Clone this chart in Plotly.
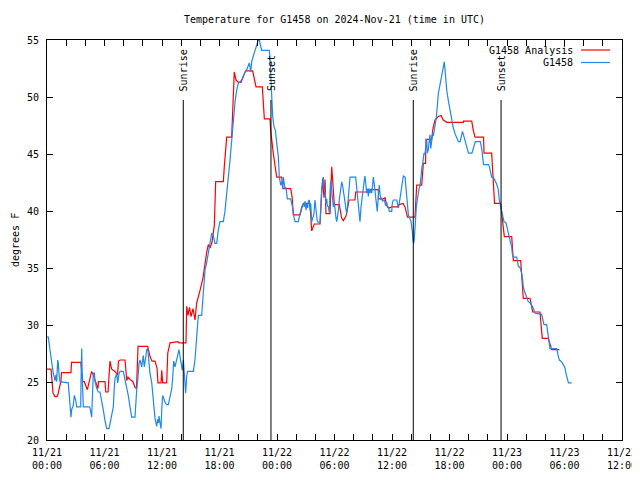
import pandas as pd
import plotly.graph_objects as go

# Hours since 2024-11-21 00:00 UTC
analysis_hours = [0.0, 0.42, 0.63, 0.83, 1.04, 1.15, 1.46, 1.51, 2.50, 2.56, 3.52, 3.73, 3.89, 4.21, 4.66, 4.83,
                  5.32, 5.37, 6.05, 6.13, 6.37, 6.57, 6.75, 7.10, 7.36, 7.46, 7.62, 8.14, 8.32, 8.45, 8.66, 8.97,
                  9.18, 9.34, 9.50, 10.51, 10.75, 10.96, 11.27, 11.48, 11.58, 11.90, 11.97, 12.07, 12.49, 12.60,
                  12.84, 13.67, 13.77, 14.50, 14.58, 14.71, 14.87, 15.03, 15.24, 15.44, 15.62, 15.79, 15.97, 16.28,
                  16.49, 16.66, 16.83, 17.01, 17.22, 17.46, 17.60, 18.40, 18.50, 18.75, 19.27, 19.38, 19.54, 19.72,
                  19.96, 20.24, 20.45, 20.73, 21.46, 21.81, 22.47, 22.57, 22.68, 23.27, 23.34, 23.61, 23.79, 23.97,
                  24.49, 24.60, 25.43, 25.57, 25.70, 26.40, 26.56, 26.75, 27.44, 27.55, 27.62, 27.89, 28.49, 28.66,
                  28.77, 28.90, 29.01, 29.11, 29.53, 29.71, 29.88, 29.98, 30.50, 30.75, 30.92, 31.20, 31.44, 31.51,
                  32.14, 32.21, 33.36, 33.39, 34.57, 34.59, 35.09, 35.27, 35.45, 35.69, 35.97, 36.66, 36.73, 37.15,
                  37.36, 37.62, 38.40, 38.47, 38.58, 39.10, 39.27, 39.50, 39.55, 40.14, 40.28, 40.49, 40.83, 41.11,
                  41.35, 41.71, 43.44, 43.46, 44.32, 44.48, 44.66, 45.55, 45.60, 46.40, 46.51, 46.70, 47.34, 47.45,
                  47.55, 47.61, 47.72, 48.49, 48.55, 48.66, 49.43, 49.53, 49.64, 49.70, 50.40, 50.58, 50.68, 51.44,
                  51.55, 51.68, 52.31, 52.66, 53.46]
analysis_temp = [26.2, 26.2, 24.1, 23.8, 23.8, 24.0, 25.2, 25.9, 25.9, 26.8, 26.8, 25.1, 25.1, 24.4, 26.0, 25.7,
                 24.5, 25.1, 25.1, 24.2, 24.2, 26.9, 26.2, 26.0, 25.7, 26.9, 27.0, 27.0, 25.2, 25.5, 25.3, 25.1,
                 24.6, 24.5, 28.2, 28.2, 27.3, 26.9, 26.9, 26.3, 25.0, 25.0, 26.1, 25.0, 25.0, 27.6,
                 28.5, 28.6, 28.5, 28.5, 31.7, 30.9, 31.6, 30.8, 31.5, 30.5, 32.0, 32.5, 33.1, 34.2,
                 35.5, 36.4, 37.1, 36.8, 37.3, 38.8, 42.6, 42.6, 43.9, 46.5, 46.5, 48.6, 52.2, 51.5,
                 51.3, 51.3, 51.8, 52.3, 52.3, 50.9, 50.9, 49.2, 48.1, 48.1, 47.1, 45.1, 44.2, 43.0,
                 43.0, 42.0, 42.0, 41.3, 39.7, 39.7, 40.2, 40.7, 40.7, 39.5, 38.3, 38.9, 38.9, 41.6,
                 42.9, 41.2, 42.8, 39.8, 39.8, 43.9, 41.6, 40.6, 40.6, 39.4, 39.2, 39.6, 40.6, 41.0,
                 41.0, 41.7, 41.7, 41.9, 41.9, 41.1, 41.1, 41.2, 40.5, 40.3, 40.4, 40.4, 40.6, 40.7,
                 40.4, 39.5, 39.5, 40.8, 42.3, 42.3, 44.2, 44.2, 46.3, 46.3, 47.3, 48.0, 48.3, 48.4,
                 48.0, 47.8, 47.8, 47.9, 47.9, 47.1, 46.5, 46.5, 45.1, 45.1, 43.3, 40.7, 40.7, 39.8,
                 39.4, 38.4, 37.8, 37.8, 36.9, 35.7, 35.7, 34.6, 33.4, 32.4, 32.4, 31.7, 31.2, 31.2,
                 30.2, 28.9, 28.9, 27.9, 27.9]

obs_hours = [0.0, 0.14, 0.31, 0.49, 0.66, 0.76, 0.83, 0.94, 1.01, 1.12, 1.18, 1.25, 1.36, 2.22, 2.30, 2.40, 2.50,
             2.58, 2.74, 2.85, 2.99, 3.10, 3.52, 3.55, 3.62, 3.69, 3.79, 4.41, 4.49, 4.66, 4.73, 4.83, 4.94, 5.01,
             5.19, 5.35, 5.53, 5.71, 5.88, 6.05, 6.23, 6.47, 6.57, 6.75, 6.92, 7.02, 7.10, 7.27, 7.38, 7.51, 7.62,
             7.96, 8.07, 8.21, 8.32, 8.48, 8.66, 8.84, 9.18, 9.26, 9.36, 9.47, 9.53, 9.60, 9.71, 9.88, 10.05,
             10.15, 10.30, 10.40, 10.51, 10.57, 10.64, 10.75, 10.93, 11.09, 11.20, 11.27, 11.45, 11.55, 11.62,
             11.69, 11.79, 11.90, 11.97, 12.07, 12.21, 12.31, 12.49, 12.66, 12.84, 13.02, 13.12, 13.22, 13.36,
             13.53, 13.70, 13.77, 13.88, 14.06, 14.12, 14.23, 14.33, 14.40, 14.47, 14.58, 14.68, 15.27, 15.34,
             15.44, 15.52, 15.67, 15.79, 16.14, 16.31, 16.49, 16.66, 16.83, 17.01, 17.19, 17.35, 17.53, 17.71,
             17.77, 17.88, 18.05, 18.40, 18.57, 18.75, 18.92, 19.10, 19.27, 19.44, 19.62, 19.79, 19.96, 20.32,
             20.48, 20.66, 20.84, 21.01, 21.11, 21.26, 21.36, 21.53, 21.71, 21.88, 22.05, 22.15, 22.23, 22.40,
             23.19, 23.27, 23.34, 23.45, 23.55, 23.69, 23.83, 23.97, 24.14, 24.24, 24.39, 24.49, 24.60, 24.66,
             24.73, 24.83, 24.94, 25.08, 25.43, 25.53, 25.70, 25.77, 25.88, 26.22, 26.33, 26.40, 26.57, 26.75,
             26.85, 26.92, 27.03, 27.10, 27.20, 27.27, 27.38, 27.44, 27.52, 27.62, 27.73, 27.86, 27.96, 28.07,
             28.21, 28.49, 28.56, 28.66, 28.83, 28.90, 29.01, 29.11, 29.19, 29.25, 29.36, 29.46, 29.53, 29.60,
             29.71, 29.81, 29.88, 29.98, 30.06, 30.16, 30.23, 30.40, 30.50, 30.65, 30.75, 30.86, 30.99, 31.10,
             31.20, 31.27, 31.37, 31.51, 31.62, 32.21, 32.32, 32.42, 32.48, 32.59, 32.66, 32.77, 32.84, 32.91,
             33.01, 33.12, 33.18, 33.26, 33.36, 33.46, 33.53, 33.60, 33.70, 33.81, 33.88, 33.98, 34.05, 34.15,
             34.22, 34.30, 34.40, 34.46, 34.57, 34.67, 34.74, 34.85, 34.92, 35.03, 35.20, 35.34, 35.45, 35.56,
             35.62, 35.72, 35.97, 36.03, 36.14, 36.49, 36.59, 36.66, 36.76, 36.84, 36.94, 37.01, 37.07, 37.18,
             37.36, 37.43, 37.54, 37.64, 37.71, 37.81, 37.88, 37.99, 38.06, 38.12, 38.19, 38.26, 38.33, 38.40,
             38.47, 38.54, 38.64, 38.71, 38.82, 38.92, 39.03, 39.13, 39.20, 39.34, 39.44, 39.55, 39.62, 39.69,
             39.79, 39.90, 39.97, 40.04, 40.14, 40.25, 40.31, 40.41, 40.49, 40.59, 40.73, 40.83, 41.01, 41.19,
             41.35, 41.46, 41.53, 41.60, 41.71, 41.88, 42.05, 42.23, 42.40, 42.58, 42.75, 42.93, 43.11, 43.21,
             43.35, 43.46, 43.63, 43.81, 43.98, 44.34, 44.51, 44.69, 45.21, 45.38, 45.49, 45.55, 45.90, 46.07,
             46.17, 46.32, 46.40, 46.57, 46.74, 46.92, 47.09, 47.19, 47.34, 47.55, 47.69, 47.90, 48.04, 48.14,
             48.25, 48.39, 48.49, 48.55, 48.66, 49.01, 49.12, 49.18, 49.36, 49.53, 49.64, 49.70, 49.87, 50.06,
             50.22, 50.40, 50.58, 50.75, 50.92, 51.62, 51.79, 51.86, 52.14, 52.25, 52.31, 52.41, 52.49, 53.19,
             53.25, 53.36, 53.46, 53.64, 53.88, 54.05, 54.16, 54.29, 54.41, 54.75]
obs_temp = [29.0, 29.0, 27.9, 26.7, 25.8, 25.5, 25.2, 25.7, 25.1, 27.0, 26.7, 25.8, 25.1, 25.0, 24.2, 22.9, 22.0,
            22.7, 23.0, 23.9, 23.5, 22.9, 22.9, 25.2, 28.0, 25.2, 22.9, 22.9, 22.8, 22.0, 23.7, 25.8, 25.9, 25.1,
            24.5, 24.2, 24.2, 23.5, 22.6, 21.7, 21.0, 21.0, 21.5, 22.1, 22.9, 24.6, 25.4, 25.8, 25.0, 25.8, 26.0,
            26.0, 25.6, 25.1, 24.5, 23.9, 22.9, 22.0, 22.0, 23.8, 24.4, 25.2, 25.8, 26.7, 27.0, 26.4, 27.4,
            26.4, 27.2, 27.9, 28.0, 27.4, 26.7, 25.8, 25.0, 23.8, 22.6, 21.9, 21.2, 21.8, 21.5,
            22.1, 21.5, 21.0, 22.6, 23.9, 23.6, 23.3, 23.1, 23.1, 23.8, 24.5, 25.5, 26.9, 26.4,
            27.0, 27.6, 27.9, 27.3, 26.4, 26.1, 27.0, 25.8, 24.5, 24.1, 25.6, 26.0, 26.0, 26.3,
            27.0, 27.9, 29.8, 30.9, 30.9, 32.5, 34.9, 35.5, 36.4, 37.2, 38.1, 37.9, 37.2, 37.2,
            37.8, 38.4, 39.1, 39.1, 40.0, 41.3, 43.0, 44.5, 46.3, 48.0, 49.6, 50.6, 51.2, 51.5,
            51.9, 52.2, 52.4, 52.7, 53.0, 52.2, 53.1, 53.6, 54.1, 54.6, 55.0, 55.0, 54.6, 54.1,
            54.1, 53.5, 52.1, 49.5, 48.3, 47.4, 47.1, 46.0, 44.8, 43.0, 42.3, 42.6, 42.0, 43.0,
            42.4, 42.0, 42.1, 41.1, 41.1, 40.7, 40.1, 39.5, 39.1, 39.1, 39.5, 40.0, 40.4, 40.7,
            40.4, 40.9, 40.1, 40.7, 40.3, 40.9, 41.0, 40.1, 40.7, 39.1, 39.4, 39.8, 41.0, 40.1,
            39.1, 39.0, 40.1, 41.9, 43.0, 42.0, 41.7, 40.7, 41.1, 40.5, 40.4, 39.9, 41.7, 42.7,
            41.8, 41.0, 40.4, 40.8, 40.0, 39.4, 39.1, 40.0, 41.0, 41.9, 42.6, 42.2, 41.4, 40.7,
            40.1, 39.8, 40.5, 41.7, 43.0, 43.0, 42.1, 41.7, 41.0, 40.1, 39.1, 40.4, 41.0, 41.6,
            42.2, 42.8, 43.1, 42.2, 41.6, 42.0, 41.3, 42.0, 41.6, 42.0, 41.6, 42.3, 43.0, 42.4,
            41.9, 41.3, 40.8, 40.0, 41.3, 42.3, 41.6, 41.0, 41.2, 40.9, 41.0, 40.5, 40.8, 40.3,
            40.4, 40.0, 40.0, 40.7, 41.0, 41.0, 40.6, 40.3, 40.7, 41.2, 41.6, 42.2, 42.8, 43.1,
            43.0, 42.2, 41.3, 40.3, 39.7, 39.5, 39.3, 39.1, 38.6, 38.3, 37.5, 37.2, 37.6, 39.0,
            39.4, 40.4, 41.0, 41.6, 42.0, 42.2, 43.3, 43.9, 44.2, 45.1, 45.0, 45.6, 46.3, 45.1,
            45.4, 46.3, 46.7, 45.5, 46.3, 46.9, 46.6, 47.1, 47.4, 48.0, 49.2, 50.3, 51.1, 51.8,
            52.6, 53.1, 52.4, 51.5, 50.6, 49.7, 48.9, 48.0, 47.3, 46.8, 46.5, 46.1, 46.1, 46.5,
            47.0, 46.7, 46.1, 45.7, 45.1, 45.1, 45.7, 46.1, 46.1, 45.4, 44.5, 44.1, 44.1, 44.1,
            43.9, 43.3, 43.0, 43.0, 42.7, 42.4, 41.9, 41.0, 40.4, 39.5, 39.1, 39.0, 38.4, 38.1,
            37.8, 37.2, 36.9, 36.3, 36.0, 36.0, 35.5, 35.2, 35.1, 34.6, 34.0, 33.4, 32.9, 32.4,
            32.1, 32.0, 31.8, 31.5, 31.1, 31.0, 30.5, 30.1, 30.1, 29.5, 29.1, 28.5, 28.0, 28.0,
            27.6, 27.3, 27.0, 26.9, 26.6, 26.3, 25.8, 25.4, 25.0, 25.0]

sun_event_hours = [14.22, 23.37, 38.22, 47.38]
sun_event_labels = ["Sunrise", "Sunset", "Sunrise", "Sunset"]

x_tick_hours = list(range(0, 61, 2))
x_label_hours = [0, 6, 12, 18, 24, 30, 36, 42, 48, 54, 60]
x_label_text = ["11/21<br>00:00", "11/21<br>06:00", "11/21<br>12:00", "11/21<br>18:00",
                "11/22<br>00:00", "11/22<br>06:00", "11/22<br>12:00", "11/22<br>18:00",
                "11/23<br>00:00", "11/23<br>06:00", "11/23<br>12:00"]
y_ticks = [20, 25, 30, 35, 40, 45, 50, 55]

base = pd.Timestamp("2024-11-21 00:00")
def to_t(hours):
    return [base + pd.Timedelta(hours=h) for h in hours]

FONT = "DejaVu Sans Mono"
FS = 10
RED = "#ff0000"
BLUE = "#1e88f0"

fig = go.Figure()
fig.add_trace(go.Scatter(x=to_t(analysis_hours), y=analysis_temp, mode="lines",
                         line=dict(color=RED, width=1.2), name="G1458 Analysis", showlegend=False))
fig.add_trace(go.Scatter(x=to_t(obs_hours), y=obs_temp, mode="lines",
                         line=dict(color=BLUE, width=1.2), name="G1458", showlegend=False))

label_map = dict(zip(x_label_hours, x_label_text))
tickvals = to_t(x_tick_hours)
ticktext = [label_map.get(h, "") for h in x_tick_hours]

shapes = []
annotations = []
for h, lab in zip(sun_event_hours, sun_event_labels):
    t = base + pd.Timedelta(hours=h)
    shapes.append(dict(type="line", xref="x", yref="y", x0=t, x1=t, y0=20, y1=49.75,
                       line=dict(color="black", width=1)))
    annotations.append(dict(x=t, y=50.35, xref="x", yref="y", text=lab, showarrow=False,
                            textangle=-90, xanchor="center", yanchor="bottom",
                            font=dict(family=FONT, size=FS, color="black")))

# legend drawn gnuplot-style: text then line sample (pixel positions relative to the page)
W, H = 575.0, 400.0
def px(xp):
    return (xp - 47) / W
def py(yp):
    return (440 - yp) / H

legend_rows = [("G1458 Analysis", RED, 50), ("G1458", BLUE, 62.5)]
for text, col, yp in legend_rows:
    annotations.append(dict(x=px(575), y=py(yp), xref="paper", yref="paper", text=text,
                            showarrow=False, xanchor="right", yanchor="middle",
                            font=dict(family=FONT, size=FS, color="black")))
    shapes.append(dict(type="line", xref="paper", yref="paper", x0=px(581), x1=px(610),
                       y0=py(yp), y1=py(yp), line=dict(color=col, width=1.2)))

annotations.append(dict(x=px(15), y=0.5, xref="paper", yref="paper", text="degrees F",
                        showarrow=False, textangle=-90, xanchor="center", yanchor="middle",
                        font=dict(family=FONT, size=FS, color="black")))

# the page body adds an 8px offset, so the figure is 632x472 and margins are reduced by 8
fig.update_layout(
    width=632, height=472,
    margin=dict(l=39, r=18, t=32, b=40, autoexpand=False),
    paper_bgcolor="white", plot_bgcolor="white",
    font=dict(family=FONT, size=FS, color="black"),
    title=dict(text="Temperature for G1458 on 2024-Nov-21 (time in UTC)", x=0.5, xref="paper",
               y=1 - 11 / 472, yref="container", xanchor="center", yanchor="middle",
               font=dict(family=FONT, size=FS, color="black")),
    shapes=shapes, annotations=annotations, showlegend=False,
)
fig.update_xaxes(range=[base, base + pd.Timedelta(hours=60)], tickmode="array",
                 tickvals=tickvals, ticktext=ticktext, ticks="inside", ticklen=6,
                 tickcolor="black", showline=True, linecolor="black", linewidth=1,
                 mirror="allticks", showgrid=False, zeroline=False, ticklabelstandoff=3,
                 tickfont=dict(family=FONT, size=FS))
fig.update_yaxes(range=[20, 55], tickmode="array", tickvals=y_ticks,
                 ticktext=[str(v) for v in y_ticks], ticks="inside", ticklen=6,
                 tickcolor="black", showline=True, linecolor="black", linewidth=1,
                 mirror="allticks", showgrid=False, zeroline=False, ticklabelstandoff=5,
                 tickfont=dict(family=FONT, size=FS))

fig.write_html("out.html")
